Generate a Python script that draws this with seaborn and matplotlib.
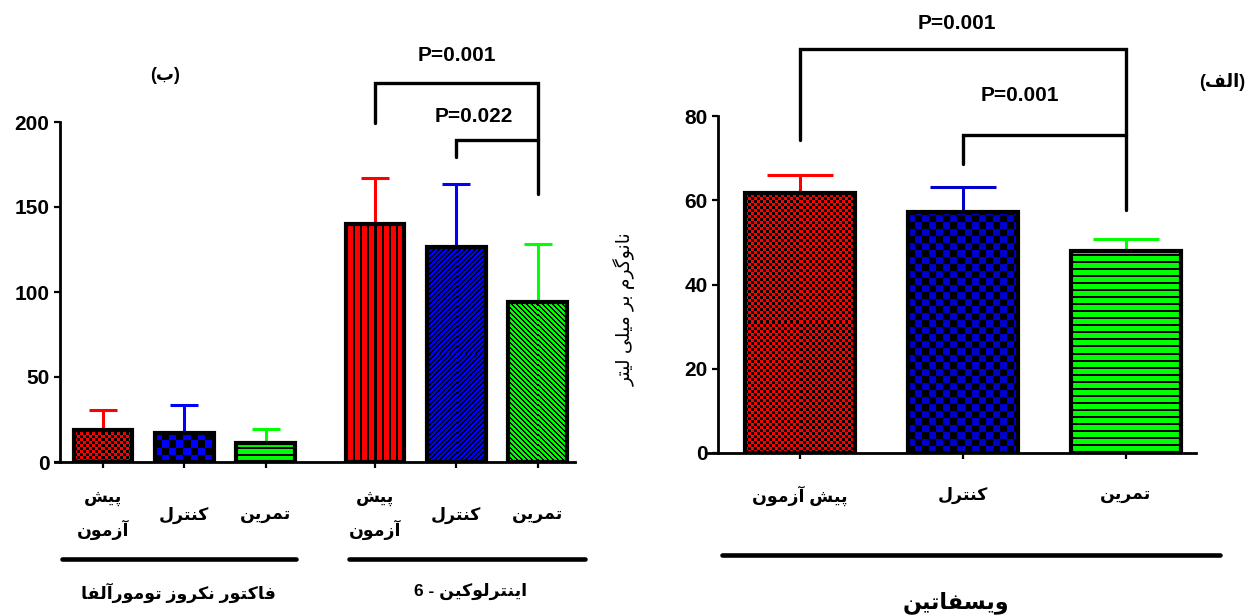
import numpy as np
import pandas as pd
import seaborn as sns
import matplotlib.pyplot as plt
from matplotlib.colors import ListedColormap

# values (ng/ml), order: pre-test, control, training
conditions = ["پیش آزمون", "کنترل", "تمرین"]
tnf_mean = [18.6, 17.3, 11.4]
tnf_sd = [12.2, 16.5, 7.8]
il6_mean = [140.2, 126.5, 94.1]
il6_sd = [27.0, 37.3, 34.4]
vis_mean = [61.8, 57.2, 48.0]
vis_sd = [4.3, 5.9, 2.8]

tnf_label = "فاکتور نکروز تومورآلفا"
il6_label = "اینترلوکین - 6"
vis_label = "ویسفاتین"
y_label = "نانوگرم بر میلی لیتر"
left_tag = "(ب)"
right_tag = "(الف)"
p_left = ["P=0.001", "P=0.022"]    # IL-6: pre vs training, control vs training
p_right = ["P=0.001", "P=0.001"]   # visfatin: pre vs training, control vs training

colors = ["#ff0000", "#0000ff", "#00ff00"]

# matplotlib has no arabic shaping -> small persian reshaper (isolated, final, initial, medial)
FORMS = {
    "ا": ("\uFE8D", "\uFE8E", None, None),
    "آ": ("\uFE81", "\uFE82", None, None),
    "ب": ("\uFE8F", "\uFE90", "\uFE91", "\uFE92"),
    "پ": ("\uFB56", "\uFB57", "\uFB58", "\uFB59"),
    "ت": ("\uFE95", "\uFE96", "\uFE97", "\uFE98"),
    "ر": ("\uFEAD", "\uFEAE", None, None),
    "ز": ("\uFEAF", "\uFEB0", None, None),
    "س": ("\uFEB1", "\uFEB2", "\uFEB3", "\uFEB4"),
    "ش": ("\uFEB5", "\uFEB6", "\uFEB7", "\uFEB8"),
    "ف": ("\uFED1", "\uFED2", "\uFED3", "\uFED4"),
    "ک": ("\uFB8E", "\uFB8F", "\uFB90", "\uFB91"),
    "گ": ("\uFB92", "\uFB93", "\uFB94", "\uFB95"),
    "ل": ("\uFEDD", "\uFEDE", "\uFEDF", "\uFEE0"),
    "م": ("\uFEE1", "\uFEE2", "\uFEE3", "\uFEE4"),
    "ن": ("\uFEE5", "\uFEE6", "\uFEE7", "\uFEE8"),
    "و": ("\uFEED", "\uFEEE", None, None),
    "ی": ("\uFBFC", "\uFBFD", "\uFBFE", "\uFBFF"),
}


def shape(text):
    lines = []
    for line in text.split("\n"):
        out = []
        for i, c in enumerate(line):
            if c not in FORMS:
                out.append(c)
                continue
            prev = line[i - 1] if i > 0 else ""
            nxt = line[i + 1] if i + 1 < len(line) else ""
            jp = prev in FORMS and FORMS[prev][2] is not None
            jn = nxt in FORMS and FORMS[c][2] is not None
            iso, fin, ini, med = FORMS[c]
            out.append(med if jp and jn else fin if jp else ini if jn else iso)
        lines.append("".join(out)[::-1].translate(str.maketrans("()", ")(")))
    return "\n".join(lines)


def fill_pattern(ax, bar, kind, color):
    # draw the bar fill as a pixel pattern clipped to the bar
    x0, y0 = bar.get_x(), bar.get_y()
    x1, y1 = x0 + bar.get_width(), y0 + bar.get_height()
    (px0, py0), (px1, py1) = ax.transData.transform([(x0, y0), (x1, y1)])
    nx, ny = max(1, int(round(px1 - px0))), max(1, int(round(py1 - py0)))
    iy, ix = np.indices((ny, nx))
    name, p, t = kind
    if name == "check":
        black = ((ix // p + iy // p) % 2) == 0
    elif name == "h":
        black = (iy % p) < t
    elif name == "v":
        black = (ix % p) < t
    elif name == "f":
        black = ((ix - iy) % p) < t
    else:
        black = ((ix + iy) % p) < t
    im = ax.imshow(np.where(black, 0, 1), extent=(x0, x1, y0, y1), origin="lower",
                   cmap=ListedColormap(["black", color]), vmin=0, vmax=1,
                   aspect="auto", interpolation="nearest", zorder=1.9)
    im.set_clip_path(bar)
    bar.set_facecolor("none")
    bar.set_zorder(2)


def bracket(ax, x1, x2, ytop, yl, yr, text, tx, ty):
    ax.plot([x1, x1, x2, x2], [yl, ytop, ytop, yr], color="black", lw=2.4,
            clip_on=False, solid_joinstyle="miter", zorder=3)
    ax.text(tx, ty, text, ha="center", va="center", fontsize=15, clip_on=False)


sns.set_style("ticks")
plt.rcParams["font.family"] = ["Liberation Sans", "DejaVu Sans"]
plt.rcParams["font.weight"] = "bold"
for key in ["text.color", "axes.labelcolor", "xtick.color", "ytick.color", "axes.edgecolor"]:
    plt.rcParams[key] = "black"

W, H = 1260, 616
fig = plt.figure(figsize=(W / 100, H / 100), dpi=100)


def rect(l, r, b, t):
    return [l / W, 1 - b / H, (r - l) / W, (b - t) / H]


ax1 = fig.add_axes(rect(55, 575, 462, 122))
ax2 = fig.add_axes(rect(708, 1196, 453, 116))

# ---------------- left panel (TNF-alpha, IL-6) ----------------
left_pos = np.r_[np.arange(3), np.arange(3) + 3.35]
left = pd.DataFrame({"pos": left_pos, "mean": tnf_mean + il6_mean,
                     "sd": tnf_sd + il6_sd, "cond": conditions * 2})
sns.barplot(data=left, x="pos", y="mean", hue="cond", palette=colors,
            native_scale=True, dodge=False, width=0.72, errorbar=None,
            legend=False, edgecolor="black", linewidth=3, ax=ax1)
ax1.set_xlim(-0.593, 5.81)
ax1.set_ylim(0, 200)

left_kinds = [("check", 3, 0), ("check", 7, 0), ("h", 6, 2),
              ("v", 7, 2), ("f", 5, 2), ("b", 5, 2)]
for bar in list(ax1.patches):
    i = int(np.argmin(np.abs(left_pos - (bar.get_x() + bar.get_width() / 2))))
    fill_pattern(ax1, bar, left_kinds[i], colors[i % 3])

for x, m, s, c in zip(left_pos, left["mean"], left["sd"], colors * 2):
    ax1.errorbar(x, m, yerr=[[0], [s]], fmt="none", ecolor=c, elinewidth=2.2,
                 capsize=10, capthick=2.2, zorder=1.5)

bracket(ax1, left_pos[3], left_pos[5], 222.8, 199.2, 157.9, p_left[0],
        (left_pos[3] + left_pos[5]) / 2, 239)
bracket(ax1, left_pos[4], left_pos[5], 189.2, 179.2, 189.2, p_left[1],
        left_pos[4] + 0.22, 203)

ax1.set_yticks([0, 50, 100, 150, 200])
left_labels = [shape(c.replace(" ", "\n")) for c in conditions] * 2
ax1.set_xticks(left_pos, labels=left_labels)
for t in ax1.get_xticklabels():
    t.set_va("center")
    t.set_linespacing(1.8)
ax1.tick_params(axis="x", length=4.5, width=1.6, pad=34, labelsize=12.5)
ax1.tick_params(axis="y", length=4.5, width=1.6, pad=3, labelsize=15)
ax1.set_xlabel("")
ax1.set_ylabel("")

xt = ax1.get_xaxis_transform()
ax1.plot([-0.506, 2.37], [-0.285, -0.285], color="black", lw=3.3, transform=xt, clip_on=False)
ax1.plot([3.03, 5.93], [-0.285, -0.285], color="black", lw=3.3, transform=xt, clip_on=False)
ax1.text(0.93, -0.385, shape(tnf_label), transform=xt, ha="center", va="center", fontsize=12.5)
ax1.text(4.53, -0.382, shape(il6_label), transform=xt, ha="center", va="center", fontsize=12.5)

# ---------------- right panel (visfatin) ----------------
right = pd.DataFrame({"cond": conditions, "mean": vis_mean, "sd": vis_sd})
sns.barplot(data=right, x="cond", y="mean", hue="cond", palette=colors,
            width=0.675, errorbar=None, legend=False, edgecolor="black",
            linewidth=3, ax=ax2)
ax2.set_xlim(-0.564, 2.43)
ax2.set_ylim(0, 80)

right_kinds = [("check", 3, 0), ("check", 7, 0), ("h", 7, 2)]
right_fill = ["#ff0000", "#0000cc", "#00ff00"]
for bar in list(ax2.patches):
    i = int(round(bar.get_x() + bar.get_width() / 2))
    fill_pattern(ax2, bar, right_kinds[i], right_fill[i])

for x, (m, s, c) in enumerate(zip(vis_mean, vis_sd, right_fill)):
    ax2.errorbar(x, m, yerr=[[0], [s]], fmt="none", ecolor=c, elinewidth=2.2,
                 capsize=24, capthick=2.2, zorder=1.5)

bracket(ax2, 0, 2, 96, 74.3, 57.7, p_right[0], 0.96, 102)
bracket(ax2, 1, 2, 75.5, 68.6, 75.5, p_right[1], 1.35, 84.8)

ax2.set_yticks([0, 20, 40, 60, 80])
ax2.set_xticks(range(3), labels=[shape(c) for c in conditions])
for t in ax2.get_xticklabels():
    t.set_va("center")
ax2.tick_params(axis="x", length=4.5, width=1.6, pad=26, labelsize=12.5)
ax2.tick_params(axis="y", length=4.5, width=1.6, pad=3, labelsize=15)
ax2.set_xlabel("")
ax2.set_ylabel(shape(y_label), fontsize=13.5, va="center")
ax2.yaxis.set_label_coords(-0.17, 0.427)

xt2 = ax2.get_xaxis_transform()
ax2.plot([-0.48, 2.58], [-0.303, -0.303], color="black", lw=3.3, transform=xt2, clip_on=False)
ax2.text(0.96, -0.445, shape(vis_label), transform=xt2, ha="center", va="center", fontsize=16)

for ax, inward in [(ax1, 3.6), (ax2, 7.2)]:
    sns.despine(ax=ax)
    ax.spines["left"].set_position(("outward", -inward))
    for side in ["left", "bottom"]:
        ax.spines[side].set_linewidth(2)
    ax.set_facecolor("none")

fig.text(165 / W, 1 - 75 / H, shape(left_tag), ha="center", va="center", fontsize=13)
fig.text(1222 / W, 1 - 82 / H, shape(right_tag), ha="center", va="center", fontsize=13)

fig.savefig("out.png", dpi=100, facecolor="white")
